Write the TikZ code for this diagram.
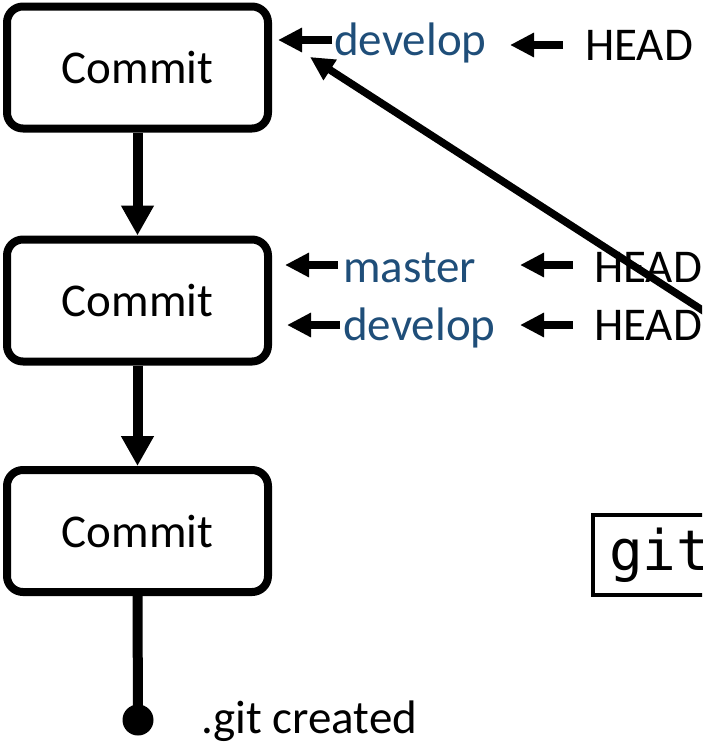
\documentclass[tikz,border=0pt]{standalone}
\usepackage{fontspec}
\setmainfont{Carlito}
\newfontfamily\codefont{DejaVu Sans Mono}
\usetikzlibrary{arrows.meta}
\definecolor{branchblue}{RGB}{31,78,121}
\begin{document}
\begin{tikzpicture}[x=1pt, y=-1pt,
  commit/.style={draw, line width=8pt, rounded corners=16pt,
    minimum width=261pt, minimum height=122pt, inner sep=0pt,
    font=\fontsize{47}{56}\selectfont},
  parent/.style={line width=10pt, -{Triangle[length=30pt, width=31pt]}},
  ptr/.style={line width=8pt, -{Triangle[length=24pt, width=23pt]}},
  label/.style={anchor=west, inner sep=0pt, text height=33pt, text depth=9pt,
    font=\fontsize{47}{56}\selectfont},
  branch/.style={label, text=branchblue},
  cmdbox/.style={draw, line width=4pt, minimum height=80pt, text width=190pt,
    inner xsep=16pt, inner ysep=0pt, align=left, anchor=west,
    font=\codefont\fontsize{56}{64}\selectfont},
]
\useasboundingbox (0,0) rectangle (702,744);
\clip (0,0) rectangle (702,744);

% commit chain
\node[commit] (c1) at (137.5,67.5) {Commit};
\node[commit] (c2) at (137.5,300.5) {Commit};
\node[commit] (c3) at (137.5,531) {Commit};
\node[circle, fill, minimum size=31pt, inner sep=0pt] (root) at (138,720) {};
\node[label, anchor=base west] (rootlbl) at (201,733) {.git created};

\draw[parent] (c1.south) -- (c2.north);
\draw[parent] (c2.south) -- (c3.north);
\draw[line width=10pt] (c3.south) -- (root.center);

% branch and HEAD labels
\node[branch] (dev1) at (334,43) {develop};
\node[label]  (head1) at (585,48) {HEAD};
\node[branch] (mas2) at (343,270) {master};
\node[label]  (head2) at (594,270) {HEAD};
\node[branch] (dev3) at (343,328) {develop};
\node[label]  (head3) at (594,328) {HEAD};

\draw[ptr] ([xshift=-2pt,yshift=3pt]dev1.west) -- ++(-54,0);
\draw[ptr] ([xshift=-5pt,yshift=5pt]mas2.west) -- ++(-53,0);
\draw[ptr] ([xshift=-3pt,yshift=3pt]dev3.west) -- ++(-53,0);

\draw[ptr] ([xshift=-22pt,yshift=3pt]head1.west) -- ++(-53,0);
\draw[ptr] ([xshift=-21pt,yshift=5pt]head2.west) -- ++(-53,0);
\draw[ptr] ([xshift=-21pt,yshift=3pt]head3.west) -- ++(-53,0);

% HEAD moved to the new develop commit
\coordinate (oldhead) at (730,328);
\coordinate (newhead) at (310,57);
\draw[ptr, line width=7.5pt] (oldhead) -- (newhead);

% command box
\node[cmdbox] (cmd) at (591,555) {git};
\end{tikzpicture}
\end{document}
